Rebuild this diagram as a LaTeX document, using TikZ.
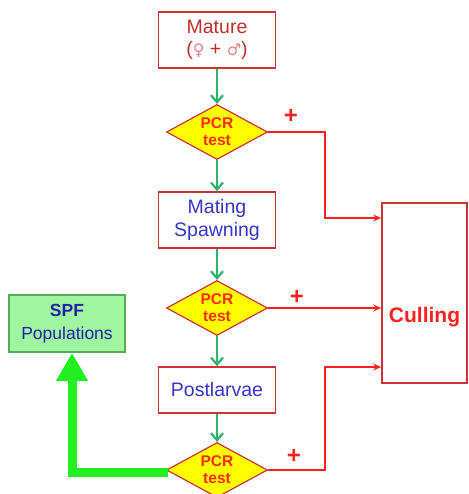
\documentclass[tikz,border=0pt]{standalone}
\usepackage{fontspec}
\setmainfont{Liberation Sans}
\newfontfamily\symfont{DejaVu Sans}
\usetikzlibrary{shapes.geometric,arrows.meta}
\definecolor{boxred}{HTML}{CC3333}
\definecolor{txtred}{HTML}{C0302A}
\definecolor{pinkish}{HTML}{E08A8A}
\definecolor{txtblue}{HTML}{3535CC}
\definecolor{pcrred}{HTML}{FF2A00}
\definecolor{dyellow}{HTML}{FFFF00}
\definecolor{arrgreen}{HTML}{2DB36A}
\definecolor{bgreen}{HTML}{22EE22}
\definecolor{spffill}{HTML}{A0F5A0}
\definecolor{spfdraw}{HTML}{55AA55}
\definecolor{spfblue}{HTML}{2222AA}
\definecolor{cullred}{HTML}{FF2020}
\begin{document}
\begin{tikzpicture}[x=1pt,y=-1pt,
  stagebox/.style={draw=boxred,line width=1.6pt,fill=white,minimum width=117pt,align=center,inner sep=0pt},
  pcr/.style={diamond,draw=boxred,line width=1.2pt,fill=dyellow,minimum width=101pt,minimum height=55pt,aspect=1.84,inner sep=0pt,align=center,font=\fontsize{15.5}{17}\selectfont\bfseries,text=pcrred},
  garrow/.style={draw=arrgreen,line width=2.2pt,-{Straight Barb[length=7pt,width=12pt]}},
  rarrow/.style={draw=cullred,line width=1.4pt,-{Stealth[length=8pt,width=7pt]}},
  plus/.style={font=\fontsize{24}{24}\selectfont\bfseries,text=cullred}
]
\useasboundingbox (0,0) rectangle (468,494);
\node[stagebox,minimum height=56pt,font=\fontsize{19.5}{22}\selectfont,text=txtred] (m) at (217,40)
  {Mature\\({\symfont\fontsize{16}{18}\selectfont\textcolor{pinkish}{♀}} + {\symfont\fontsize{16}{18}\selectfont\textcolor{pinkish}{♂}})};
\node[pcr] (d1) at (217,132) {PCR\\test};
\node[stagebox,minimum height=56pt,font=\fontsize{19.5}{23}\selectfont,text=txtblue] (mt) at (217,220) {Mating\\Spawning};
\node[pcr] (d2) at (217,308) {PCR\\test};
\node[stagebox,minimum height=46pt,font=\fontsize{19.5}{22}\selectfont,text=txtblue] (pl) at (217,390) {Postlarvae};
\node[pcr] (d3) at (217,470) {PCR\\test};
\node[draw=boxred,line width=1.6pt,minimum width=85pt,minimum height=180pt] (c) at (424.5,293) {};
\node[font=\fontsize{21}{21}\selectfont\bfseries,text=cullred] (ct) at (424.5,317) {Culling};
\node[draw=spfdraw,line width=1.5pt,fill=spffill,minimum width=116pt,minimum height=57pt,align=center,inner sep=0pt,text=spfblue,font=\fontsize{17.5}{23}\selectfont] (spf) at (67,323.5)
  {\textbf{SPF}\\Populations};
\draw[garrow] (m) -- (d1);
\draw[garrow] (d1) -- (mt);
\draw[garrow] (mt) -- (d2);
\draw[garrow] (d2) -- (pl);
\draw[garrow] (pl) -- (d3);
\coordinate (k1) at (325,218);
\coordinate (k3) at (325,367);
\draw[rarrow] (d1.east) -| (k1) -- (k1 -| c.west);
\draw[rarrow] (d2.east) -- (d2.east -| c.west);
\draw[rarrow] (d3.east) -| (k3) -- (k3 -| c.west);
\draw[draw=bgreen,line width=9pt,line join=miter,-{Triangle[length=28pt,width=30pt]}] ([xshift=2pt,yshift=-2pt]d3.west) -| ([xshift=5pt]spf.south);
\node[plus] (p1) at (291,116) {+};
\node[plus] (p2) at (297,297) {+};
\node[plus] (p3) at (294,456) {+};
\end{tikzpicture}
\end{document}
